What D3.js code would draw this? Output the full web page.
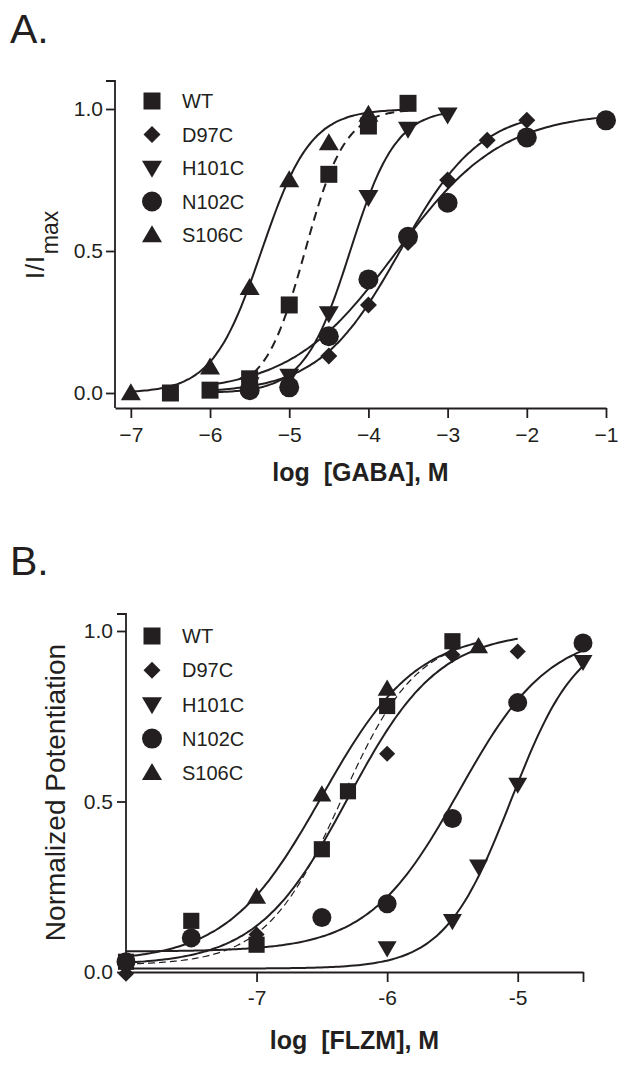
<!DOCTYPE html>
<html>
<head>
<meta charset="utf-8">
<script src="https://cdn.jsdelivr.net/npm/d3@7"></script>
<style>
  html, body { margin: 0; padding: 0; background: #fff; }
  svg { display: block; }
  text { font-family: "Liberation Sans", Arial, sans-serif; fill: #231f20; }
</style>
</head>
<body>
<svg id="chart" width="627" height="1066"></svg>
<script>
// ---------- DATA ----------
const seriesNames = ["WT", "D97C", "H101C", "N102C", "S106C"];
const seriesSymbols = ["square", "diamond", "triangleDown", "circle", "triangleUp"];

// Panel A: log [GABA], M  vs  I/Imax
const gabaWT_x    = [-6.5, -6, -5.5, -5, -4.5, -4, -3.5];
const gabaWT_y    = [0.0, 0.01, 0.05, 0.31, 0.77, 0.94, 1.02];
const gabaD97C_x  = [-5, -4.5, -4, -3.5, -3, -2.5, -2];
const gabaD97C_y  = [0.04, 0.13, 0.31, 0.53, 0.75, 0.89, 0.96];
const gabaH101C_x = [-5.5, -5, -4.5, -4, -3.5, -3];
const gabaH101C_y = [0.03, 0.06, 0.28, 0.69, 0.93, 0.98];
const gabaN102C_x = [-5.5, -5, -4.5, -4, -3.5, -3, -2, -1];
const gabaN102C_y = [0.01, 0.02, 0.20, 0.40, 0.55, 0.67, 0.90, 0.96];
const gabaS106C_x = [-7, -6, -5.5, -5, -4.5, -4];
const gabaS106C_y = [0.0, 0.09, 0.37, 0.75, 0.88, 0.98];

// Hill fits for panel A: [bottom, top, logEC50, hillSlope, xStart, xEnd]
const gabaFitWT    = [0, 1.0, -4.8, 1.72, -5.6, -3.5];
const gabaFitD97C  = [0, 1.0, -3.6, 0.85, -6, -2];
const gabaFitH101C = [0, 1.0, -4.23, 1.5, -6, -3];
const gabaFitN102C = [0, 0.99, -3.65, 0.65, -6, -1];
const gabaFitS106C = [0, 1.0, -5.35, 1.4, -7, -3.6];

const gabaXTicks = [-7, -6, -5, -4, -3, -2, -1];
const gabaYTicks = [0, 0.5, 1.0];

// Panel B: log [FLZM], M  vs  Normalized Potentiation
const flzmWT_x    = [-8, -7.5, -7, -6.5, -6.3, -6, -5.5];
const flzmWT_y    = [0.03, 0.15, 0.08, 0.36, 0.53, 0.78, 0.97];
const flzmD97C_x  = [-8, -7, -6, -5.5, -5];
const flzmD97C_y  = [-0.005, 0.11, 0.64, 0.93, 0.94];
const flzmH101C_x = [-6, -5.5, -5.3, -5, -4.5];
const flzmH101C_y = [0.07, 0.15, 0.31, 0.55, 0.91];
const flzmN102C_x = [-8, -7.5, -6.5, -6, -5.5, -5, -4.5];
const flzmN102C_y = [0.03, 0.10, 0.16, 0.20, 0.45, 0.79, 0.965];
const flzmS106C_x = [-7, -6.5, -6, -5.3];
const flzmS106C_y = [0.22, 0.52, 0.83, 0.955];

const flzmFitWT    = [0.02, 0.99, -6.35, 1.5, -8, -5.5];
const flzmFitD97C  = [0.02, 1.0, -6.3, 1.25, -8, -5];
const flzmFitH101C = [0.01, 1.0, -5.05, 1.7, -8, -4.5];
const flzmFitN102C = [0.06, 1.0, -5.45, 1.25, -8, -4.5];
const flzmFitS106C = [0.03, 1.0, -6.5, 1.2, -8, -5.3];

const flzmXTicks = [-7, -6, -5, -4.5];
const flzmXTickLabels = ["-7", "-6", "-5", ""];
const flzmYTicks = [0, 0.5, 1.0];

// ---------- DRAWING ----------
const svg = d3.select("#chart");
const INK = "#231f20";

function hill(p, x) {
  return p[0] + (p[1] - p[0]) / (1 + Math.pow(10, (p[2] - x) * p[3]));
}

function symbolPath(type, s) {
  const p = d3.path();
  if (type === "square") {
    p.rect(-s / 2, -s / 2, s, s);
  } else if (type === "diamond") {
    p.moveTo(0, -s / 2); p.lineTo(s / 2, 0); p.lineTo(0, s / 2); p.lineTo(-s / 2, 0); p.closePath();
  } else if (type === "circle") {
    p.arc(0, 0, s / 2, 0, 2 * Math.PI);
  } else if (type === "triangleUp") {
    const h = s * 0.85;
    p.moveTo(0, -h * 0.58); p.lineTo(s / 2, h * 0.42); p.lineTo(-s / 2, h * 0.42); p.closePath();
  } else if (type === "triangleDown") {
    const h = s * 0.85;
    p.moveTo(0, h * 0.58); p.lineTo(s / 2, -h * 0.42); p.lineTo(-s / 2, -h * 0.42); p.closePath();
  }
  return p.toString();
}
const symbolSize = { square: 17, diamond: 17, circle: 20, triangleUp: 20, triangleDown: 20 };

function drawPanel(cfg) {
  const g = svg.append("g");
  const x = d3.scaleLinear().domain(cfg.xDomain).range(cfg.xRange);
  const y = d3.scaleLinear().domain([0, 1]).range(cfg.yRange01);

  // panel letter
  g.append("text").attr("x", 10).attr("y", cfg.letterY)
    .style("font-size", "41px").text(cfg.letter);

  // y axis line with top cap
  const y0px = x(cfg.xDomain[0]);
  const yTop = y(cfg.yAxisTop), yBot = y(cfg.yAxisBottom);
  const ax = d3.path();
  ax.moveTo(y0px - 9, yTop); ax.lineTo(y0px, yTop); ax.lineTo(y0px, yBot);
  g.append("path").attr("d", ax.toString()).attr("fill", "none")
    .attr("stroke", INK).attr("stroke-width", 1.8);

  // y ticks
  const yAxis = d3.axisLeft(y).tickValues(cfg.yTicks).tickSize(9).tickPadding(cfg.yPad)
    .tickFormat(d3.format(".1f"));
  const ya = g.append("g").attr("transform", `translate(${y0px},0)`).call(yAxis);
  ya.select(".domain").remove();
  ya.selectAll("line").attr("stroke", INK).attr("stroke-width", 1.8);
  ya.selectAll("text").style("font-size", "21px").attr("fill", INK);

  // x axis
  const xAxis = d3.axisBottom(x).tickValues(cfg.xTicks).tickSize(10).tickSizeOuter(0)
    .tickPadding(cfg.xPad).tickFormat((d, i) => cfg.xTickLabels ? cfg.xTickLabels[i] : d3.format("d")(d));
  const xa = g.append("g").attr("transform", `translate(0,${yBot})`).call(xAxis);
  xa.select(".domain").attr("stroke", INK).attr("stroke-width", 1.8);
  xa.selectAll("line").attr("stroke", INK).attr("stroke-width", 1.8);
  xa.selectAll("text").style("font-size", "21px").attr("fill", INK);

  // axis titles
  const xMid = (cfg.xRange[0] + cfg.xRange[1]) / 2;
  g.append("text").attr("x", xMid).attr("y", cfg.xTitleY).attr("text-anchor", "middle")
    .style("font-size", "25px").style("font-weight", "bold").style("white-space", "pre")
    .attr("xml:space", "preserve").text(cfg.xTitle);
  cfg.yTitle(g, y);

  // curves
  const line = d3.line().x(d => x(d[0])).y(d => y(d[1])).curve(d3.curveBasis);
  cfg.fits.forEach((p, i) => {
    const n = 120;
    const pts = d3.range(n + 1).map(k => {
      const xv = p[4] + (p[5] - p[4]) * k / n;
      return [xv, hill(p, xv)];
    });
    g.append("path").attr("d", line(pts)).attr("fill", "none").attr("stroke", INK)
      .attr("stroke-width", i === 0 ? cfg.dashWidth : 2)
      .attr("stroke-dasharray", i === 0 ? cfg.dash : null);
  });

  // markers
  cfg.points.forEach((s, i) => {
    const type = seriesSymbols[i];
    s.x.forEach((xv, k) => {
      g.append("path").attr("d", symbolPath(type, symbolSize[type] * cfg.markScale))
        .attr("transform", `translate(${x(xv)},${y(s.y[k])})`).attr("fill", INK);
    });
  });

  // legend
  seriesNames.forEach((name, i) => {
    const cy = cfg.legendY + i * cfg.legendStep;
    const type = seriesSymbols[i];
    g.append("path").attr("d", symbolPath(type, symbolSize[type]))
      .attr("transform", `translate(152,${cy})`).attr("fill", INK);
    g.append("text").attr("x", 182).attr("y", cy).attr("dy", "0.36em")
      .style("font-size", "20px").text(name);
  });
}

// Panel A
drawPanel({
  letter: "A.", letterY: 43,
  xDomain: [-7.2, -1], xRange: [115, 606], yRange01: [393, 109],
  yAxisTop: (393 - 81) / 284, yAxisBottom: (393 - 408) / 284,
  xTicks: gabaXTicks, yTicks: gabaYTicks, xPad: 9, yPad: 3,
  xTitle: "log  [GABA], M", xTitleY: 481,
  yTitle: (g, y) => {
    const t = g.append("text").attr("transform", `translate(44,279) rotate(-90)`)
      .style("font-size", "25px");
    t.append("tspan").style("letter-spacing", "1px").text("I/I");
    t.append("tspan").attr("dx", 1).attr("dy", 14).style("font-size", "23px").text("max");
  },
  fits: [gabaFitWT, gabaFitD97C, gabaFitH101C, gabaFitN102C, gabaFitS106C],
  points: [
    { x: gabaWT_x, y: gabaWT_y }, { x: gabaD97C_x, y: gabaD97C_y },
    { x: gabaH101C_x, y: gabaH101C_y }, { x: gabaN102C_x, y: gabaN102C_y },
    { x: gabaS106C_x, y: gabaS106C_y }
  ],
  dash: "9,6", dashWidth: 2, markScale: 1,
  legendY: 101, legendStep: 33.5
});

// Panel B
drawPanel({
  letter: "B.", letterY: 575,
  xDomain: [-8, -4.5], xRange: [126, 583], yRange01: [972, 631],
  yAxisTop: (972 - 614) / 341, yAxisBottom: 0,
  xTicks: flzmXTicks, xTickLabels: flzmXTickLabels, yTicks: flzmYTicks, xPad: 8, yPad: 4,
  xTitle: "log  [FLZM], M", xTitleY: 1049,
  yTitle: (g, y) => {
    g.append("text").attr("transform", `translate(65,${(y(0) + y(1)) / 2 - 9}) rotate(-90)`)
      .attr("text-anchor", "middle").style("font-size", "28px").text("Normalized Potentiation");
  },
  fits: [flzmFitWT, flzmFitD97C, flzmFitH101C, flzmFitN102C, flzmFitS106C],
  points: [
    { x: flzmWT_x, y: flzmWT_y }, { x: flzmD97C_x, y: flzmD97C_y },
    { x: flzmH101C_x, y: flzmH101C_y }, { x: flzmN102C_x, y: flzmN102C_y },
    { x: flzmS106C_x, y: flzmS106C_y }
  ],
  dash: "7,4", dashWidth: 1.2, markScale: 0.95,
  legendY: 636, legendStep: 34.2
});
</script>
</body>
</html>
